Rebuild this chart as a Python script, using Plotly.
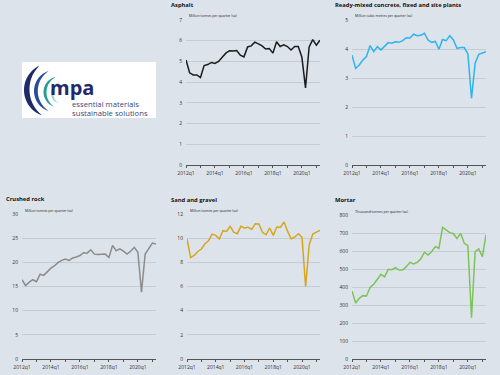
import numpy as np
import plotly.graph_objects as go

# ---------------- data ----------------
quarters = [f"{y}q{q}" for y in range(2012, 2022) for q in range(1, 5)][:38]
year_ticks = [f"{y}q1" for y in range(2012, 2022)]
tick_text = ["2012q1", "", "2014q1", "", "2016q1", "", "2018q1", "", "2020q1", ""]

asphalt = [5.07, 4.45, 4.35, 4.35, 4.22, 4.80, 4.85, 4.95, 4.90, 5.00, 5.20, 5.40,
           5.52, 5.50, 5.53, 5.30, 5.22, 5.70, 5.75, 5.93, 5.85, 5.75, 5.60, 5.62,
           5.40, 5.95, 5.72, 5.80, 5.72, 5.55, 5.72, 5.72, 5.20, 3.72, 5.70, 6.05,
           5.78, 6.02]
ready_mixed = [3.79, 3.33, 3.45, 3.62, 3.74, 4.12, 3.91, 4.08, 3.97, 4.08, 4.22, 4.20,
               4.25, 4.23, 4.29, 4.39, 4.38, 4.51, 4.46, 4.47, 4.54, 4.31, 4.23, 4.26,
               3.99, 4.33, 4.29, 4.46, 4.31, 4.02, 4.05, 4.05, 3.83, 2.30, 3.51, 3.82,
               3.87, 3.91]
crushed_rock = [16.4, 15.2, 15.9, 16.4, 16.0, 17.55, 17.3, 18.1, 18.8, 19.3, 20.0, 20.4,
                20.7, 20.4, 20.9, 21.1, 21.4, 22.0, 21.9, 22.6, 21.7, 21.6, 21.6, 21.7,
                21.0, 23.5, 22.4, 22.8, 22.3, 21.7, 22.3, 23.1, 22.1, 13.8, 21.7, 22.9,
                24.0, 23.8]
sand_gravel = [9.95, 8.40, 8.57, 8.90, 9.10, 9.54, 9.79, 10.34, 10.23, 9.93, 10.62, 10.56,
               10.98, 10.50, 10.37, 10.98, 10.84, 10.90, 10.73, 11.20, 11.17, 10.48, 10.28, 10.84,
               10.23, 10.92, 10.90, 11.34, 10.56, 9.93, 10.10, 10.37, 10.06, 6.00, 9.46, 10.34,
               10.50, 10.64]
mortar = [378, 311, 337, 352, 350, 398, 415, 443, 470, 456, 498, 496,
          507, 494, 494, 513, 537, 528, 537, 556, 593, 578, 596, 624,
          615, 731, 717, 702, 696, 670, 698, 643, 630, 230, 596, 611,
          569, 689]

panels = [
    dict(title="Asphalt", unit="Million tonnes per quarter (sa)", values=asphalt,
         color="#1c1c1c", ymax=7, dtick=1, box=(186, 320, 20, 165), tx=169, ty=5),
    dict(title="Ready-mixed concrete, fixed and site plants",
         unit="Million cubic metres per quarter (sa)", values=ready_mixed,
         color="#2fb4ee", ymax=5, dtick=1, box=(352, 486, 20, 165), tx=333, ty=5),
    dict(title="Crushed rock", unit="Million tonnes per quarter (sa)", values=crushed_rock,
         color="#8c8c8c", ymax=30, dtick=5, box=(22, 156, 214, 359), tx=4, ty=199),
    dict(title="Sand and gravel", unit="Million tonnes per quarter (sa)", values=sand_gravel,
         color="#d6a621", ymax=12, dtick=2, box=(187, 320, 214, 359), tx=169, ty=200),
    dict(title="Mortar", unit="Thousand tonnes per quarter (sa)", values=mortar,
         color="#7dc35a", ymax=800, dtick=100, box=(352, 486, 215, 359), tx=333, ty=200),
]

W, H = 500, 375
BG = "#dce3ea"
FONT = "Open Sans"


def px(x):
    return x / W


def py(y):
    return 1 - y / H


fig = go.Figure()
annotations = []
shapes = []

for i, p in enumerate(panels, start=1):
    x0, x1, y0, y1 = p["box"]
    sfx = "" if i == 1 else str(i)
    fig.add_trace(go.Scatter(
        x=quarters, y=p["values"], mode="lines",
        line=dict(color=p["color"], width=1.5),
        xaxis=f"x{sfx}", yaxis=f"y{sfx}",
        showlegend=False, hoverinfo="skip"))
    fig.layout[f"xaxis{sfx}"] = dict(
        domain=[px(x0), px(x1)], anchor=f"y{sfx}", automargin=False,
        type="category", range=[0, len(quarters) - 1],
        tickmode="array", tickvals=year_ticks, ticktext=tick_text,
        showline=True, linecolor="#555555", linewidth=1,
        ticks="outside", ticklen=2, tickcolor="#555555", tickwidth=1,
        showgrid=False, zeroline=False,
        tickfont=dict(family=FONT, size=5, color="#333333"), ticklabelstandoff=1)
    fig.layout[f"yaxis{sfx}"] = dict(
        domain=[py(y1), py(y0)], anchor=f"x{sfx}", automargin=False,
        range=[0, p["ymax"]], dtick=p["dtick"], tick0=0,
        showgrid=True, gridcolor="#c4ccd4", gridwidth=1,
        zeroline=False, showline=False, ticks="",
        tickfont=dict(family=FONT, size=5, color="#333333"), ticklabelstandoff=3)
    annotations.append(dict(
        text=f"<b>{p['title']}</b>", x=px(p["tx"]), y=py(p["ty"]),
        xref="paper", yref="paper", xanchor="left", yanchor="middle",
        showarrow=False, font=dict(family=FONT, size=5.8, color="#111111")))
    annotations.append(dict(
        text=p["unit"], x=px(x0 + 1), y=py(y0 - 4),
        xref="paper", yref="paper", xanchor="left", yanchor="middle",
        showarrow=False, font=dict(family=FONT, size=3.4, color="#222222")))

# ---------------- logo ----------------
shapes.append(dict(type="rect", xref="paper", yref="paper",
                   x0=px(22), x1=px(156), y0=py(118), y1=py(62),
                   fillcolor="white", line=dict(width=0), layer="below"))


def crescent(cx, cy, r, a0, a1, wmax):
    t = np.linspace(0, 1, 40)
    th = np.radians(a0 + (a1 - a0) * t)
    w = wmax * np.sin(np.pi * t) ** 0.8
    ox, oy = cx + r * np.cos(th), cy + r * np.sin(th)
    ix, iy = cx + (r - w) * np.cos(th), cy + (r - w) * np.sin(th)
    xs = np.concatenate([ox, ix[::-1]])
    ys = np.concatenate([oy, iy[::-1]])
    pts = [f"{px(a):.5f},{py(b):.5f}" for a, b in zip(xs, ys)]
    return "M" + " L".join(pts) + " Z"


arcs = [
    (51, 90, 27, -116, -250, 5.5, "#1f2a6b"),
    (55, 91, 21, -108, -252, 3.8, "#2b4c9b"),
    (59, 92, 15.5, -102, -250, 3.0, "#2a9c95"),
    (62, 93, 11, -98, -248, 2.4, "#9fd3b4"),
]
for cx, cy, r, a0, a1, wm, col in arcs:
    shapes.append(dict(type="path", xref="paper", yref="paper",
                       path=crescent(cx, cy, r, a0, a1, wm),
                       fillcolor=col, line=dict(width=0)))

annotations.append(dict(text="<b>mpa</b>", x=px(48), y=py(87), xref="paper", yref="paper",
                        xanchor="left", yanchor="middle", showarrow=False,
                        font=dict(family=FONT, size=20, color="#1f2a6b")))
annotations.append(dict(text="essential materials", x=px(70), y=py(104), xref="paper",
                        yref="paper", xanchor="left", yanchor="middle", showarrow=False,
                        font=dict(family=FONT, size=7.7, color="#3a4676")))
annotations.append(dict(text="sustainable solutions", x=px(70), y=py(113), xref="paper",
                        yref="paper", xanchor="left", yanchor="middle", showarrow=False,
                        font=dict(family=FONT, size=7.7, color="#3a4676")))

fig.update_layout(
    template="none",
    width=W, height=H, autosize=False,
    margin=dict(l=0, r=0, t=0, b=0, pad=0),
    paper_bgcolor=BG, plot_bgcolor=BG,
    annotations=annotations, shapes=shapes,
    font=dict(family=FONT),
)

fig.write_html("out.html", config={"displayModeBar": False},
               post_script="document.body.style.margin='0';")
